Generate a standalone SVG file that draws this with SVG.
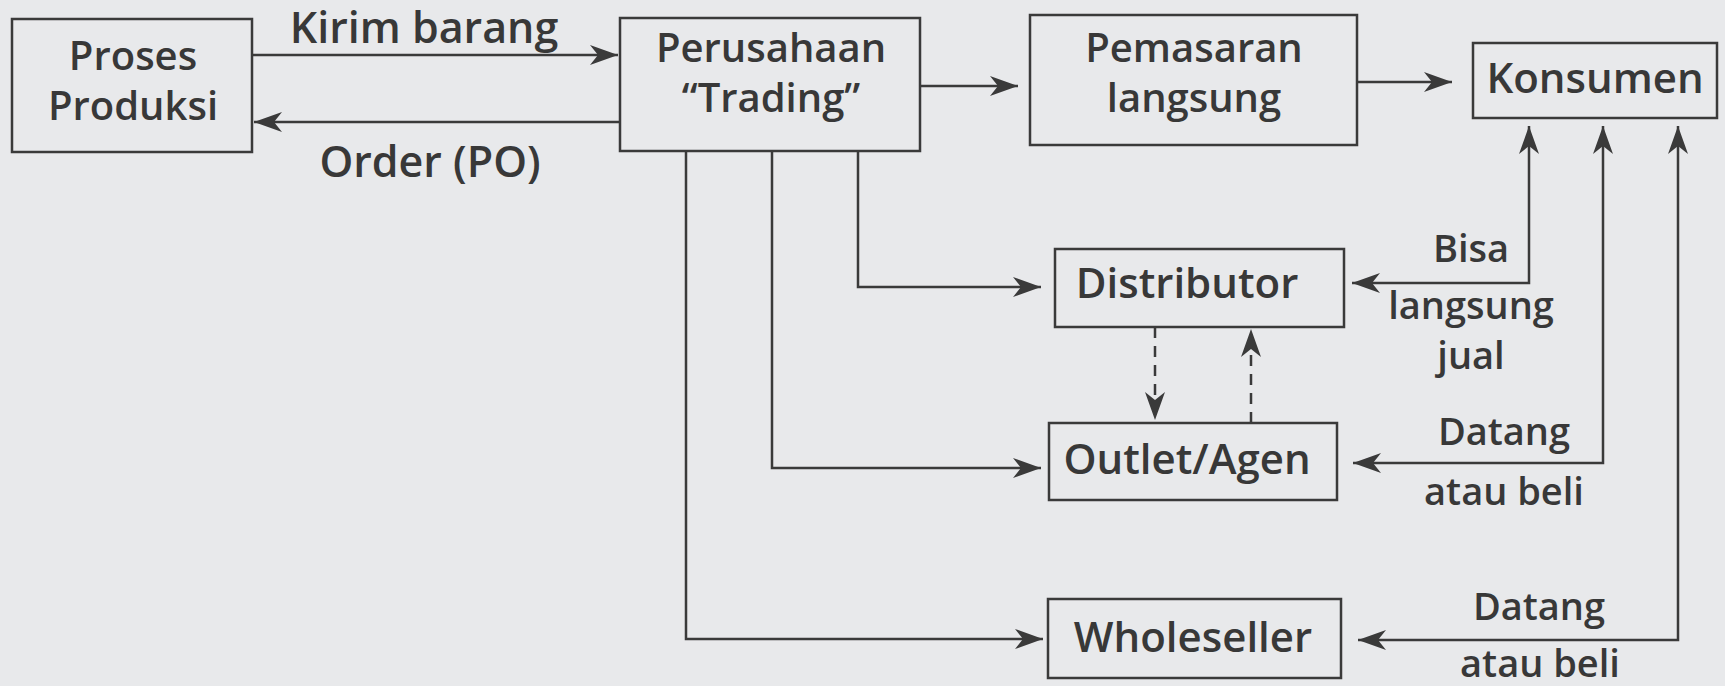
<svg xmlns="http://www.w3.org/2000/svg" width="1725" height="686" viewBox="0 0 1725 686">
<style>
.bg{fill:#e8e9eb}
.box{fill:none;stroke:#3a3a3a;stroke-width:2.5}
.t{font-family:"Open Sans","Liberation Sans",sans-serif;font-weight:600;fill:#383838;text-anchor:middle}
.b2{font-size:40px}
.b1{font-size:42px}
.lt{font-size:43px}
.st{font-size:38px}
.ln{fill:none;stroke:#3a3a3a;stroke-width:2.5}
.ah{marker-end:url(#arr)}
.dash{stroke-dasharray:11 8}
</style>
<defs>
<marker id="arr" markerUnits="userSpaceOnUse" viewBox="-30 -12 32 24" refX="0" refY="0" markerWidth="32" markerHeight="24" orient="auto-start-reverse">
<path d="M0,0 L-28,-10 L-20,0 L-28,10 Z" fill="#3a3a3a"/>
</marker>
</defs>
<rect class="bg" x="0" y="0" width="1725" height="686"/>

<g id="connectors">
<path class="ln ah" d="M252,55 H618"/>
<path class="ln ah" d="M620,122 H254"/>
<path class="ln ah" d="M920,86 H1018"/>
<path class="ln ah" d="M1357,82 H1452"/>
<path class="ln ah" d="M858,151 V287 H1041"/>
<path class="ln ah" d="M772,151 V468 H1041"/>
<path class="ln ah" d="M686,151 V639 H1043"/>
<path class="ln" d="M1352,283 H1529 V126" marker-start="url(#arr)" marker-end="url(#arr)"/>
<path class="ln" d="M1353,463 H1603 V126" marker-start="url(#arr)" marker-end="url(#arr)"/>
<path class="ln" d="M1358,640 H1678 V126" marker-start="url(#arr)" marker-end="url(#arr)"/>
<path class="ln ah dash" d="M1155,327 V420"/>
<path class="ln ah dash" d="M1251,423 V329"/>
<text class="t lt" x="424" y="43">Kirim barang</text>
<text class="t lt" x="430" y="177">Order (PO)</text>
<text class="t st" x="1471" y="262">Bisa</text>
<text class="t st" x="1471" y="319">langsung</text>
<text class="t st" x="1471" y="369">jual</text>
<text class="t st" x="1504" y="445">Datang</text>
<text class="t st" x="1504" y="505">atau beli</text>
<text class="t st" x="1539" y="620">Datang</text>
<text class="t st" x="1540" y="677">atau beli</text>
</g>

<g id="proses">
<rect class="box" x="12" y="19" width="240" height="133"/>
<text class="t b2"><tspan x="133" y="70">Proses</tspan><tspan x="133" y="120">Produksi</tspan></text>
</g>
<g id="perusahaan">
<rect class="box" x="620" y="18" width="300" height="133"/>
<text class="t b2"><tspan x="771" y="62">Perusahaan</tspan><tspan x="771" y="112">“Trading”</tspan></text>
</g>
<g id="pemasaran">
<rect class="box" x="1030" y="15" width="327" height="130"/>
<text class="t b2"><tspan x="1194" y="62">Pemasaran</tspan><tspan x="1194" y="112">langsung</tspan></text>
</g>
<g id="konsumen">
<rect class="box" x="1473" y="43" width="244" height="75"/>
<text class="t b1" x="1595" y="93">Konsumen</text>
</g>
<g id="distributor">
<rect class="box" x="1055" y="249" width="289" height="78"/>
<text class="t b1" x="1187" y="298">Distributor</text>
</g>
<g id="outlet">
<rect class="box" x="1049" y="423" width="288" height="77"/>
<text class="t b1" x="1187" y="474">Outlet/Agen</text>
</g>
<g id="wholeseller">
<rect class="box" x="1048" y="599" width="293" height="79"/>
<text class="t b1" x="1193" y="652">Wholeseller</text>
</g>
</svg>
